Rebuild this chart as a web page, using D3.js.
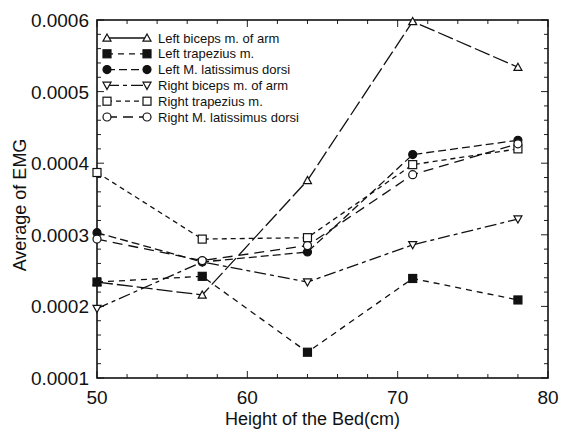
<!DOCTYPE html>
<html>
<head>
<meta charset="utf-8">
<title>Average of EMG</title>
<script src="https://cdn.jsdelivr.net/npm/d3@7"></script>
<style>
  body{ margin:0; background:#fff; }
  svg text{ font-family: "Liberation Sans", Arial, sans-serif; fill:#111; }
</style>
</head>
<body>
<div id="chart"></div>
<script>
// data
var heights = [50, 57, 64, 71, 78];
var seriesNames = ["Left biceps m. of arm", "Left trapezius m.", "Left M. latissimus dorsi",
                   "Right biceps m. of arm", "Right trapezius m.", "Right M. latissimus dorsi"];
var leftBiceps   = [0.000234, 0.000216, 0.000376, 0.000598, 0.000534];
var leftTrap     = [0.000234, 0.000242, 0.000136, 0.000239, 0.000209];
var leftLat      = [0.000303, 0.000262, 0.000276, 0.000412, 0.000432];
var rightBiceps  = [0.000197, 0.000262, 0.000234, 0.000286, 0.000322];
var rightTrap    = [0.000387, 0.000294, 0.000296, 0.000398, 0.000420];
var rightLat     = [0.000294, 0.000264, 0.000285, 0.000384, 0.000427];
var yTicks = [0.0001, 0.0002, 0.0003, 0.0004, 0.0005, 0.0006];
var xTicks = [50, 60, 70, 80];

var allSeries = [leftBiceps, leftTrap, leftLat, rightBiceps, rightTrap, rightLat];
var markers = ["triUp", "sqFill", "circFill", "triDown", "sqOpen", "circOpen"];
var dashes = ["16,4", "6,5", "8,4", "12,4,4,4", "5,4", "10,6"];

var W = 561, H = 433;
var m = {left:97, right:13, top:20, bottom:55};

var svg = d3.select("#chart").append("svg").attr("width", W).attr("height", H);

var x = d3.scaleLinear().domain([50, 80]).range([m.left, W - m.right]);
var y = d3.scaleLinear().domain([0.0001, 0.0006]).range([H - m.bottom, m.top]);

// minor/major ticks pointing inward on all four sides
var g = svg.append("g").attr("stroke", "#222");
d3.range(50, 80.1, 2).forEach(function(v){
  var len = (v % 10 === 0) ? 7 : 4;
  g.append("line").attr("x1", x(v)).attr("x2", x(v)).attr("y1", y(0.0001)).attr("y2", y(0.0001) - len);
  g.append("line").attr("x1", x(v)).attr("x2", x(v)).attr("y1", y(0.0006)).attr("y2", y(0.0006) + len);
});
d3.range(0, 26).forEach(function(i){
  var v = 0.0001 + i * 0.00002;
  var len = (i % 5 === 0) ? 7 : 4;
  g.append("line").attr("x1", x(50)).attr("x2", x(50) + len).attr("y1", y(v)).attr("y2", y(v));
  g.append("line").attr("x1", x(80)).attr("x2", x(80) - len).attr("y1", y(v)).attr("y2", y(v));
});

svg.append("rect")
  .attr("x", x(50)).attr("y", y(0.0006))
  .attr("width", x(80) - x(50)).attr("height", y(0.0001) - y(0.0006))
  .attr("fill", "none").attr("stroke", "#111").attr("stroke-width", 1.6);

// tick labels
svg.selectAll(".ylab").data(yTicks).enter().append("text")
  .attr("x", x(50) - 8).attr("y", function(d){ return y(d) + 7; })
  .attr("text-anchor", "end").style("font-size", "19px")
  .text(function(d){ return d3.format(".4f")(d); });

svg.selectAll(".xlab").data(xTicks).enter().append("text")
  .attr("x", function(d){ return x(d); }).attr("y", y(0.0001) + 26)
  .attr("text-anchor", "middle").style("font-size", "19px")
  .text(function(d){ return d; });

svg.append("text")
  .attr("x", (x(50) + x(80)) / 2 - 10).attr("y", H - 8)
  .attr("text-anchor", "middle").style("font-size", "18px")
  .text("Height of the Bed(cm)");

svg.append("text")
  .attr("transform", "translate(26," + ((y(0.0001) + y(0.0006)) / 2 + 6) + ") rotate(-90)")
  .attr("text-anchor", "middle").style("font-size", "18px")
  .text("Average of EMG");

function drawMarker(sel, type, cx, cy){
  var s = 4;
  if(type === "triUp"){
    sel.append("path").attr("d", "M" + cx + "," + (cy - s) + "L" + (cx + s) + "," + (cy + s * 0.8) + "L" + (cx - s) + "," + (cy + s * 0.8) + "Z")
      .attr("fill", "#fff").attr("stroke", "#111").attr("stroke-width", 1.2);
  } else if(type === "triDown"){
    sel.append("path").attr("d", "M" + cx + "," + (cy + s) + "L" + (cx + s) + "," + (cy - s * 0.8) + "L" + (cx - s) + "," + (cy - s * 0.8) + "Z")
      .attr("fill", "#fff").attr("stroke", "#111").attr("stroke-width", 1.2);
  } else if(type === "sqFill" || type === "sqOpen"){
    sel.append("rect").attr("x", cx - s).attr("y", cy - s).attr("width", 2 * s).attr("height", 2 * s)
      .attr("fill", type === "sqFill" ? "#111" : "#fff").attr("stroke", "#111").attr("stroke-width", 1.2);
  } else {
    sel.append("circle").attr("cx", cx).attr("cy", cy).attr("r", s)
      .attr("fill", type === "circFill" ? "#111" : "#fff").attr("stroke", "#111").attr("stroke-width", 1.2);
  }
}

var line = d3.line().x(function(d, i){ return x(heights[i]); }).y(function(d){ return y(d); });

allSeries.forEach(function(vals, k){
  var sg = svg.append("g");
  sg.append("path").datum(vals).attr("d", line)
    .attr("fill", "none").attr("stroke", "#111").attr("stroke-width", 1.3)
    .attr("stroke-dasharray", dashes[k]);
  vals.forEach(function(v, i){ drawMarker(sg, markers[k], x(heights[i]), y(v)); });
});

// legend
var lg = svg.append("g");
seriesNames.forEach(function(name, k){
  var ly = 38 + k * 15.8;
  lg.append("line").attr("x1", 107).attr("x2", 147).attr("y1", ly).attr("y2", ly)
    .attr("stroke", "#111").attr("stroke-width", 1.3)
    .attr("stroke-dasharray", k === 0 ? null : dashes[k]);
  drawMarker(lg, markers[k], 107, ly);
  drawMarker(lg, markers[k], 147, ly);
  lg.append("text").attr("x", 158).attr("y", ly + 4.5).style("font-size", "13px").text(name);
});
</script>
</body>
</html>
